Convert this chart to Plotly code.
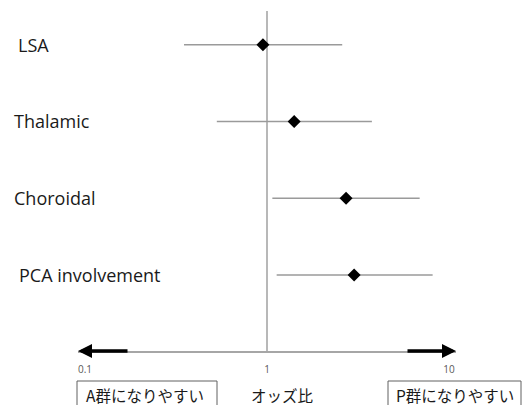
import math
import plotly.graph_objects as go

# ---- data ----
labels = ["LSA", "Thalamic", "Choroidal", "PCA involvement"]
odds_ratio = [0.95, 1.41, 2.72, 3.01]
ci_lower = [0.35, 0.53, 1.07, 1.13]
ci_upper = [2.59, 3.77, 6.90, 8.13]
tick_vals = [0.1, 1, 10]
tick_text = ["0.1", "1", "10"]
ref_or = 1
axis_title = "オッズ比"
left_box = "A群になりやすい"
right_box = "P群になりやすい"

# ---- layout geometry (pixels) ----
W, H = 527, 405
L, R, T, B = 78, 71, 0, 54
PW, PH = W - L - R, H - T - B

def px(x):
    return (x - L) / PW

def py(y):
    return (H - B - y) / PH

rows = list(range(len(labels)))
label_x = [16, 12, 12, 17]

fig = go.Figure()
fig.add_trace(go.Scatter(
    x=odds_ratio, y=rows, mode="markers",
    marker=dict(symbol="diamond", size=10, color="black"),
    error_x=dict(type="data", symmetric=False,
                 array=[u - o for u, o in zip(ci_upper, odds_ratio)],
                 arrayminus=[o - l for o, l in zip(odds_ratio, ci_lower)],
                 color="#9a9a9a", thickness=1.4, width=0),
    hoverinfo="skip", showlegend=False, cliponaxis=False,
))

shapes = [
    dict(type="line", xref="x", yref="paper", x0=ref_or, x1=ref_or,
         y0=0, y1=py(11), line=dict(color="#b8b8b8", width=2), layer="below"),
    dict(type="rect", xref="paper", yref="paper", x0=px(77), x1=px(217),
         y0=py(412), y1=py(381), line=dict(color="#606060", width=1)),
    dict(type="rect", xref="paper", yref="paper", x0=px(388), x1=px(521),
         y0=py(412), y1=py(381), line=dict(color="#606060", width=1)),
]

annotations = []
for i, (lab, lx) in enumerate(zip(labels, label_x)):
    annotations.append(dict(text=lab, xref="paper", yref="y", x=px(lx), y=i,
                            xanchor="left", yanchor="middle", showarrow=False,
                            font=dict(family="Open Sans", size=18, color="#1a1a1a")))
# arrows
annotations.append(dict(xref="paper", yref="paper", x=0, y=0, ax=51, ay=0,
                        axref="pixel", ayref="pixel", text="", showarrow=True,
                        arrowhead=2, arrowwidth=3.5, arrowsize=0.8, arrowcolor="black"))
annotations.append(dict(xref="paper", yref="paper", x=1, y=0, ax=-50, ay=0,
                        axref="pixel", ayref="pixel", text="", showarrow=True,
                        arrowhead=2, arrowwidth=3.5, arrowsize=0.8, arrowcolor="black"))
cjk = dict(family="Noto Sans CJK JP", size=15.5, color="#1a1a1a")
annotations.append(dict(text=left_box, xref="paper", yref="paper", x=px(145), y=py(395),
                        xanchor="center", yanchor="middle", showarrow=False, font=cjk))
annotations.append(dict(text=axis_title, xref="paper", yref="paper", x=px(282), y=py(395),
                        xanchor="center", yanchor="middle", showarrow=False, font=cjk))
annotations.append(dict(text=right_box, xref="paper", yref="paper", x=px(455), y=py(395),
                        xanchor="center", yanchor="middle", showarrow=False, font=cjk))

row_gap = (275 - 44.7) / 3
y_top = -44.7 / row_gap
y_bot = (H - B - 44.7) / row_gap

fig.update_layout(
    width=W, height=H,
    margin=dict(l=L, r=R, t=T, b=B),
    paper_bgcolor="white", plot_bgcolor="white",
    xaxis=dict(type="log", range=[-1.0385, 1.0385], showgrid=False, zeroline=False,
               showline=True, linecolor="#a6a6a6", linewidth=1.5,
               tickvals=tick_vals, ticktext=tick_text, ticks="",
               ticklabelstandoff=8,
               tickfont=dict(family="Open Sans", size=10, color="#595959")),
    yaxis=dict(range=[y_bot, y_top], showgrid=False, zeroline=False,
               showline=False, showticklabels=False, ticks=""),
    shapes=shapes, annotations=annotations,
)

fig.write_html("out.html", config={"displayModeBar": False},
               post_script="document.body.style.margin='0';document.body.style.overflow='hidden';")
